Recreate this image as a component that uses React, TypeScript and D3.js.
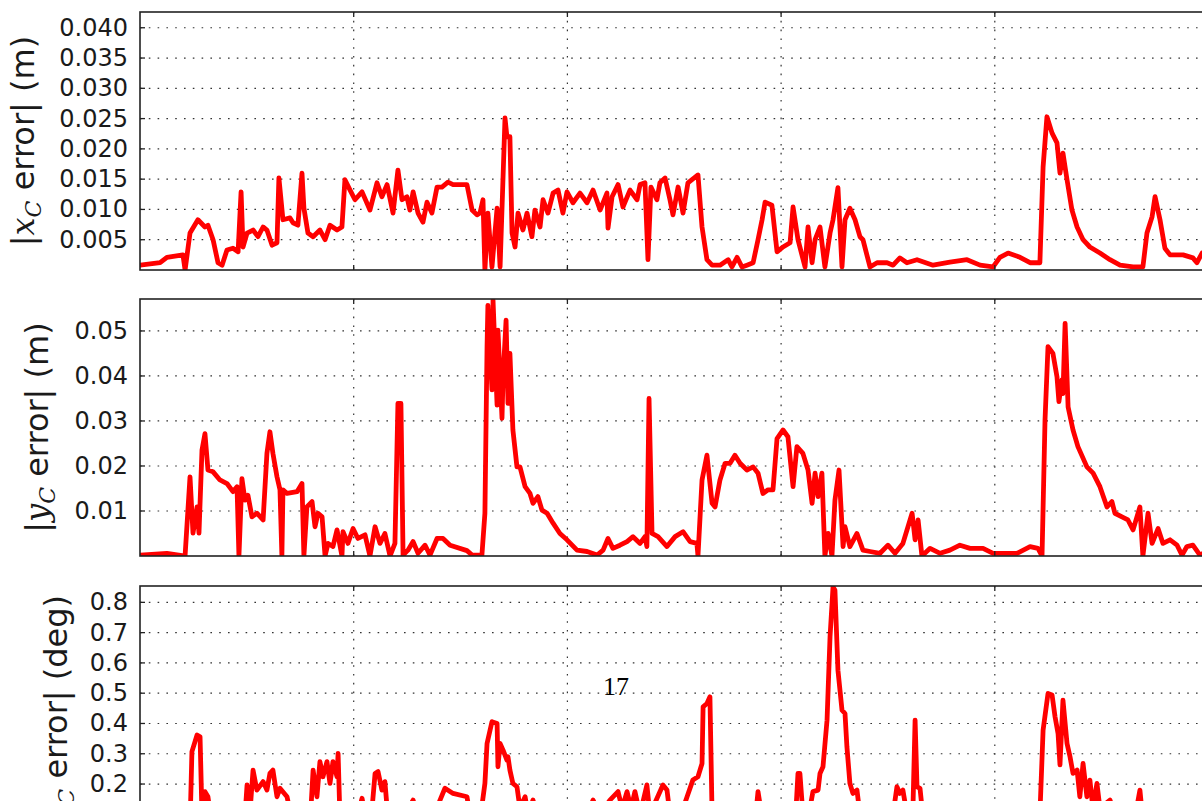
import React from 'react';
import * as d3 from 'd3';

// x: frame index (no tick labels shown), gridlines every 100 frames
const xGridTicks = [100, 200, 300, 400];
const xDomain: [number, number] = [0, 500];

const xErrTicks = [0.005, 0.01, 0.015, 0.02, 0.025, 0.03, 0.035, 0.04];
const yErrTicks = [0.01, 0.02, 0.03, 0.04, 0.05];
const thErrTicks = [0.1, 0.2, 0.3, 0.4, 0.5, 0.6, 0.7, 0.8];

// |x_C error| (m)
const xErr: [number, number][] = [
  [0,0.0008],[9.4,0.0012],[12.6,0.0021],[20.1,0.0025],[21.1,0.0],[23.4,0.0061],[27.1,0.0083],[30.4,0.0071],[31.8,0.0074],[34.2,0.005],
  [36.5,0.0012],[38.4,0.0008],[40.7,0.0033],[43.5,0.0036],[45.9,0.003],[47.3,0.0129],[48.2,0.0038],[50.1,0.0061],[52.9,0.0066],[55.2,0.0055],
  [57.6,0.0071],[59.4,0.0066],[61.8,0.0041],[64.1,0.0045],[65.0,0.0152],[66.9,0.0083],[70.2,0.0086],[71.6,0.0078],[73.9,0.0074],[75.8,0.016],
  [76.7,0.0102],[78.6,0.0061],[81.0,0.0055],[84.2,0.0066],[86.6,0.005],[88.9,0.0074],[92.2,0.0066],[94.5,0.0071],[95.9,0.0149],[98.3,0.0132],
  [100.6,0.0116],[103.9,0.0129],[107.6,0.0099],[110.9,0.0144],[113.2,0.0121],[115.6,0.0141],[118.4,0.0094],[120.7,0.0165],[122.6,0.0116],[124.9,0.0121],
  [126.3,0.0099],[127.8,0.0129],[130.1,0.0094],[132.4,0.0079],[134.3,0.0112],[136.6,0.0094],[139.0,0.0137],[141.3,0.0137],[144.1,0.0145],[146.5,0.0141],
  [153.0,0.0141],[155.4,0.0099],[157.7,0.0091],[159.1,0.0094],[160.5,0.0116],[161.4,0.0],[162.8,0.0094],[164.7,0.0005],[167.1,0.0102],[168.5,0.0005],
  [170.8,0.0251],[171.7,0.022],[173.1,0.022],[174.1,0.0061],[175.5,0.0038],[176.9,0.0094],[179.2,0.0066],[181.1,0.0094],[183.4,0.0055],[184.8,0.0099],
  [187.2,0.0071],[188.6,0.0116],[190.9,0.0094],[193.3,0.0127],[195.6,0.0132],[197.9,0.0094],[199.8,0.0129],[202.6,0.0111],[205.9,0.0127],[209.2,0.0111],
  [212.0,0.0132],[215.3,0.0099],[218.5,0.0127],[219.0,0.0069],[220.9,0.0121],[223.7,0.0141],[226.0,0.0104],[229.3,0.0132],[232.6,0.0116],[234.0,0.0141],
  [236.3,0.0144],[237.7,0.0017],[239.1,0.0137],[241.9,0.0116],[243.3,0.0144],[245.7,0.0152],[248.0,0.0116],[249.4,0.0091],[251.8,0.0137],[254.1,0.0094],
  [256.4,0.0144],[261.1,0.0157],[263.0,0.0071],[265.3,0.0017],[267.7,0.0008],[271.4,0.0008],[275.2,0.0017],[277.0,0.0005],[279.4,0.0021],[281.7,0.0005],
  [284.0,0.0008],[286.9,0.0012],[289.2,0.005],[291.1,0.0083],[292.5,0.0112],[295.7,0.0107],[298.1,0.003],[300.9,0.0038],[304.2,0.0045],[305.6,0.0104],
  [307.9,0.005],[311.2,0.0005],[312.6,0.0071],[314.5,0.0012],[315.9,0.005],[318.2,0.0071],[320.5,0.0005],[322.9,0.0061],[324.3,0.0083],[326.6,0.0136],
  [328.5,0.0005],[329.9,0.0083],[332.2,0.0102],[334.6,0.0083],[336.9,0.0055],[338.3,0.005],[341.6,0.0005],[344.9,0.0012],[349.6,0.0012],[352.4,0.0008],
  [355.6,0.002],[358.9,0.0012],[363.6,0.0017],[371.1,0.0008],[379.0,0.0013],[387.0,0.0017],[393.1,0.0008],[399.2,0.0005],[402.4,0.0021],[406.2,0.0028],
  [411.8,0.0021],[416.5,0.0012],[421.1,0.0012],[422.6,0.017],[424.4,0.0253],[426.8,0.0226],[429.1,0.021],[430.5,0.016],[431.9,0.0193],[433.8,0.0149],
  [436.1,0.0099],[438.5,0.0071],[441.3,0.005],[444.5,0.0038],[449.2,0.0028],[453.9,0.0017],[458.6,0.0008],[464.7,0.0005],[469.3,0.0005],[471.2,0.0061],
  [473.6,0.0088],[475.0,0.0121],[477.3,0.0083],[479.6,0.0036],[482.0,0.0025],[488.1,0.0025],[492.7,0.002],[494.6,0.0012],[497.0,0.0028],[500,0.0024],
];

// |y_C error| (m)
const yErr: [number, number][] = [
  [0,0.0002],[12.6,0.0006],[19.7,0.0001],[21.1,0.0001],[23.4,0.0176],[24.8,0.0051],[26.7,0.0109],[27.6,0.0051],[29.0,0.0235],[30.4,0.0272],
  [31.8,0.0191],[34.2,0.0187],[37.4,0.0169],[40.7,0.0161],[43.5,0.0143],[45.4,0.0154],[46.3,0.0],[47.7,0.0172],[49.1,0.0124],[50.5,0.0135],
  [52.4,0.0087],[54.7,0.0095],[57.6,0.008],[59.4,0.0228],[60.8,0.0276],[62.2,0.0228],[64.1,0.0176],[65.5,0.0147],[66.4,0.0],[66.9,0.0147],
  [68.8,0.0139],[73.5,0.0143],[75.8,0.0161],[76.7,0.0],[78.1,0.0109],[80.5,0.0121],[81.9,0.0065],[83.3,0.0095],[85.2,0.0087],[86.6,0.0],
  [88.0,0.0028],[90.3,0.0021],[92.2,0.0058],[94.5,0.0],[95.0,0.0054],[97.3,0.0028],[99.7,0.0061],[102.0,0.0039],[105.3,0.0047],[107.6,0.0],
  [110.0,0.0065],[112.3,0.0028],[114.6,0.005],[117.0,0.0],[119.3,0.0028],[120.7,0.0339],[122.1,0.0339],[123.1,0.0002],[125.4,0.0013],[127.8,0.0032],
  [130.1,0.0006],[133.4,0.0024],[135.7,0.0002],[139.0,0.0039],[141.8,0.0039],[145.1,0.0024],[153.0,0.0012],[155.4,0.0002],[160.0,0.0002],[161.4,0.0095],
  [162.4,0.0465],[162.8,0.0557],[164.7,0.0369],[165.2,0.0568],[167.1,0.0335],[167.5,0.0502],[169.4,0.0306],[169.9,0.0398],[171.3,0.0524],[172.2,0.0339],
  [173.1,0.045],[174.5,0.028],[176.4,0.0198],[177.8,0.0198],[180.2,0.0154],[182.5,0.0139],[183.9,0.0117],[186.2,0.0132],[188.1,0.0102],[190.5,0.0095],
  [193.3,0.0073],[196.5,0.005],[199.8,0.0036],[204.5,0.0013],[209.2,0.001],[213.9,0.0002],[216.7,0.0013],[219.0,0.0039],[221.3,0.0017],[224.6,0.0024],
  [227.9,0.0032],[230.7,0.0043],[234.0,0.0028],[236.3,0.0043],[237.2,0.0021],[238.2,0.035],[239.6,0.005],[242.4,0.0043],[246.6,0.0021],[250.4,0.0043],
  [254.1,0.0054],[257.4,0.0032],[260.6,0.0028],[261.1,0.0],[263.0,0.0169],[265.3,0.0224],[267.7,0.0117],[269.1,0.0109],[271.4,0.0169],[273.8,0.0206],
  [276.1,0.0206],[278.4,0.0224],[280.8,0.0206],[284.0,0.0191],[286.9,0.0198],[289.2,0.0184],[291.5,0.0139],[293.9,0.0147],[296.2,0.0147],[298.1,0.0261],
  [300.9,0.028],[303.2,0.0265],[305.6,0.0154],[307.4,0.0243],[310.2,0.0228],[312.6,0.0191],[314.5,0.0117],[315.9,0.0184],[317.3,0.0132],[319.1,0.0184],
  [320.5,0.0],[322.0,0.005],[323.8,0.0],[325.2,0.0124],[327.1,0.0191],[329.0,0.0021],[329.9,0.0065],[332.2,0.0021],[335.5,0.005],[338.3,0.0013],
  [341.6,0.001],[346.3,0.0006],[350.0,0.0024],[353.3,0.0006],[357.0,0.0028],[361.3,0.0095],[362.7,0.0036],[364.1,0.008],[365.9,0.0],[369.7,0.0017],
  [374.4,0.0006],[379.0,0.0013],[383.7,0.0024],[388.4,0.0017],[394.5,0.0017],[399.2,0.0006],[405.7,0.0006],[410.4,0.0006],[416.5,0.0021],[420.2,0.0017],
  [422.1,0.0],[423.5,0.0302],[424.9,0.0465],[427.2,0.045],[429.1,0.0398],[430.0,0.0343],[431.4,0.0391],[431.9,0.0361],[432.9,0.0517],[434.3,0.0331],
  [436.6,0.028],[438.9,0.0243],[443.1,0.0198],[446.0,0.0184],[449.2,0.0154],[452.5,0.0109],[454.8,0.0121],[456.2,0.0095],[459.5,0.0087],[462.3,0.008],
  [464.7,0.0058],[467.9,0.0109],[469.3,0.0],[471.7,0.0095],[473.6,0.0028],[476.4,0.0061],[478.7,0.0028],[482.0,0.0036],[485.3,0.0024],[487.6,0.0002],
  [489.9,0.0021],[492.7,0.0024],[496.0,0.0002],[500,0.0012],
];

// |theta_C error| (deg)
const thErr: [number, number][] = [
  [0,0.03],[11.7,0.04],[21.1,0.05],[23.4,0.06],[24.3,0.307],[26.7,0.362],[28.1,0.356],[29.0,0.1],[30.4,0.175],[31.8,0.158],
  [33.7,0.06],[42.1,0.05],[49.1,0.09],[50.1,0.197],[51.5,0.11],[52.9,0.246],[54.7,0.18],[57.6,0.208],[59.4,0.18],[60.8,0.235],
  [62.2,0.246],[64.1,0.158],[65.5,0.186],[68.8,0.158],[71.1,0.08],[77.2,0.07],[80.0,0.12],[81.0,0.246],[82.8,0.158],[84.2,0.274],
  [85.6,0.224],[87.5,0.274],[88.9,0.202],[90.3,0.274],[92.2,0.224],[92.7,0.301],[93.6,0.08],[100.6,0.06],[103.9,0.153],[105.8,0.08],
  [108.6,0.12],[110.0,0.235],[111.4,0.241],[113.2,0.18],[114.6,0.208],[116.0,0.09],[121.7,0.07],[127.8,0.147],[130.1,0.09],[138.0,0.1],
  [140.4,0.147],[142.7,0.186],[146.5,0.169],[153.0,0.158],[154.4,0.1],[159.1,0.08],[161.4,0.202],[162.4,0.334],[164.7,0.406],[167.1,0.4],
  [167.5,0.257],[168.5,0.334],[169.9,0.312],[171.7,0.279],[172.2,0.29],[173.1,0.246],[174.5,0.202],[176.4,0.191],[177.8,0.12],[180.2,0.158],
  [181.6,0.1],[183.9,0.147],[186.2,0.09],[196.5,0.06],[208.2,0.08],[212.0,0.147],[215.3,0.1],[219.9,0.147],[223.7,0.175],[225.6,0.12],
  [227.9,0.175],[229.8,0.12],[231.6,0.175],[234.0,0.1],[237.2,0.197],[238.6,0.1],[244.7,0.197],[246.6,0.18],[248.0,0.1],[252.7,0.09],
  [256.0,0.158],[258.7,0.213],[261.1,0.224],[263.0,0.268],[263.5,0.455],[265.3,0.466],[266.7,0.488],[267.7,0.1],[271.4,0.06],[283.1,0.07],
  [288.3,0.11],[289.2,0.175],[291.1,0.09],[299.5,0.08],[307.0,0.12],[307.9,0.235],[308.8,0.235],[310.2,0.1],[313.5,0.12],[314.9,0.175],
  [317.3,0.18],[318.2,0.235],[319.6,0.257],[321.5,0.411],[322.9,0.686],[324.3,0.851],[325.2,0.84],[326.6,0.576],[328.5,0.444],[329.9,0.433],
  [330.8,0.323],[332.2,0.202],[333.6,0.169],[335.5,0.18],[336.9,0.1],[346.3,0.07],[352.4,0.1],[354.2,0.191],[355.6,0.169],[357.0,0.18],
  [358.9,0.1],[361.7,0.12],[362.7,0.411],[363.6,0.191],[365.0,0.186],[366.4,0.09],[379.0,0.06],[393.1,0.07],[407.1,0.06],[421.1,0.1],
  [422.6,0.378],[424.9,0.499],[426.8,0.494],[428.2,0.422],[429.6,0.367],[430.5,0.263],[431.9,0.477],[433.8,0.334],[435.2,0.29],[436.6,0.235],
  [438.5,0.246],[439.8,0.158],[441.3,0.268],[443.1,0.158],[444.5,0.213],[445.9,0.12],[447.8,0.202],[449.2,0.12],[453.9,0.147],[456.2,0.1],
  [465.6,0.09],[467.9,0.18],[469.3,0.08],[482.0,0.06],[497.0,0.05],[500,0.05],
];

const W = 1202;
const H = 801;
const LEFT = 140;
const RIGHT = 1208.5;

type Panel = {
  key: string;
  top: number;
  bottom: number;
  yMax: number;
  ticks: number[];
  decimals: number;
  data: [number, number][];
  sym: string;
  unit: string;
  labelX: number;
};

const panels: Panel[] = [
  { key: 'x', top: 12, bottom: 270, yMax: 0.0426, ticks: xErrTicks, decimals: 3, data: xErr, sym: 'x', unit: '(m)', labelX: 34 },
  { key: 'y', top: 299, bottom: 556, yMax: 0.0571, ticks: yErrTicks, decimals: 2, data: yErr, sym: 'y', unit: '(m)', labelX: 48 },
  { key: 't', top: 586, bottom: 844.6, yMax: 0.854, ticks: thErrTicks, decimals: 1, data: thErr, sym: 'θ', unit: '(deg)', labelX: 67 },
];

const TEXT = '#1a1a1a';

export default function App() {
  const xs = d3.scaleLinear().domain(xDomain).range([LEFT, RIGHT]);
  return (
    <svg
      width={W}
      height={H}
      style={{ position: 'absolute', left: 0, top: 0, background: '#fff' }}
      fontFamily="'DejaVu Sans', sans-serif"
    >
      <rect x={0} y={0} width={W} height={H} fill="#fff" />
      {panels.map((p) => {
        const ys = d3.scaleLinear().domain([0, p.yMax]).range([p.bottom, p.top]);
        const line = d3
          .line<[number, number]>()
          .x((d) => xs(d[0]))
          .y((d) => ys(d[1]));
        const clipId = `clip-${p.key}`;
        const cy = (p.top + p.bottom) / 2;
        return (
          <g key={p.key}>
            <defs>
              <clipPath id={clipId}>
                <rect x={LEFT} y={p.top} width={RIGHT - LEFT} height={p.bottom - p.top} />
              </clipPath>
            </defs>
            {p.ticks.map((t) => (
              <line
                key={`h${t}`}
                x1={LEFT}
                x2={RIGHT}
                y1={ys(t)}
                y2={ys(t)}
                stroke="#333"
                strokeWidth={1.2}
                strokeDasharray="1.6 7.2"
              />
            ))}
            {xGridTicks.map((t) => (
              <line
                key={`v${t}`}
                x1={xs(t)}
                x2={xs(t)}
                y1={p.top}
                y2={p.bottom}
                stroke="#333"
                strokeWidth={1.2}
                strokeDasharray="1.6 7.2"
              />
            ))}
            <path
              d={line(p.data) || ''}
              fill="none"
              stroke="#ff0000"
              strokeWidth={4.8}
              strokeLinejoin="round"
              strokeLinecap="round"
              clipPath={`url(#${clipId})`}
            />
            {xGridTicks.map((t) => (
              <g key={`xt${t}`}>
                <line x1={xs(t)} x2={xs(t)} y1={p.top} y2={p.top + 5} stroke="#222" strokeWidth={1.3} />
                <line x1={xs(t)} x2={xs(t)} y1={p.bottom} y2={p.bottom - 5} stroke="#222" strokeWidth={1.3} />
              </g>
            ))}
            {p.ticks.map((t) => (
              <line key={`yt${t}`} x1={LEFT} x2={LEFT + 5} y1={ys(t)} y2={ys(t)} stroke="#222" strokeWidth={1.3} />
            ))}
            <rect
              x={LEFT}
              y={p.top}
              width={RIGHT - LEFT}
              height={p.bottom - p.top}
              fill="none"
              stroke="#222"
              strokeWidth={1.6}
            />
            {p.ticks.map((t) => (
              <text
                key={`yl${t}`}
                x={128}
                y={ys(t)}
                textAnchor="end"
                dominantBaseline="central"
                fontSize={24}
                fill={TEXT}
              >
                {t.toFixed(p.decimals)}
              </text>
            ))}
            <text
              transform={`translate(${p.labelX},${cy}) rotate(-90)`}
              textAnchor="middle"
              fontSize={32}
              fill={TEXT}
            >
              <tspan>|</tspan>
              <tspan fontFamily="'DejaVu Serif', serif" fontStyle="italic">{p.sym}</tspan>
              <tspan fontFamily="'DejaVu Serif', serif" fontStyle="italic" fontSize={22} dy={7}>C</tspan>
              <tspan dy={-7}> error| {p.unit}</tspan>
            </text>
          </g>
        );
      })}
      <text x={616} y={695} textAnchor="middle" fontSize={26} fontFamily="'Liberation Serif', serif" fill="#000">
        17
      </text>
    </svg>
  );
}
